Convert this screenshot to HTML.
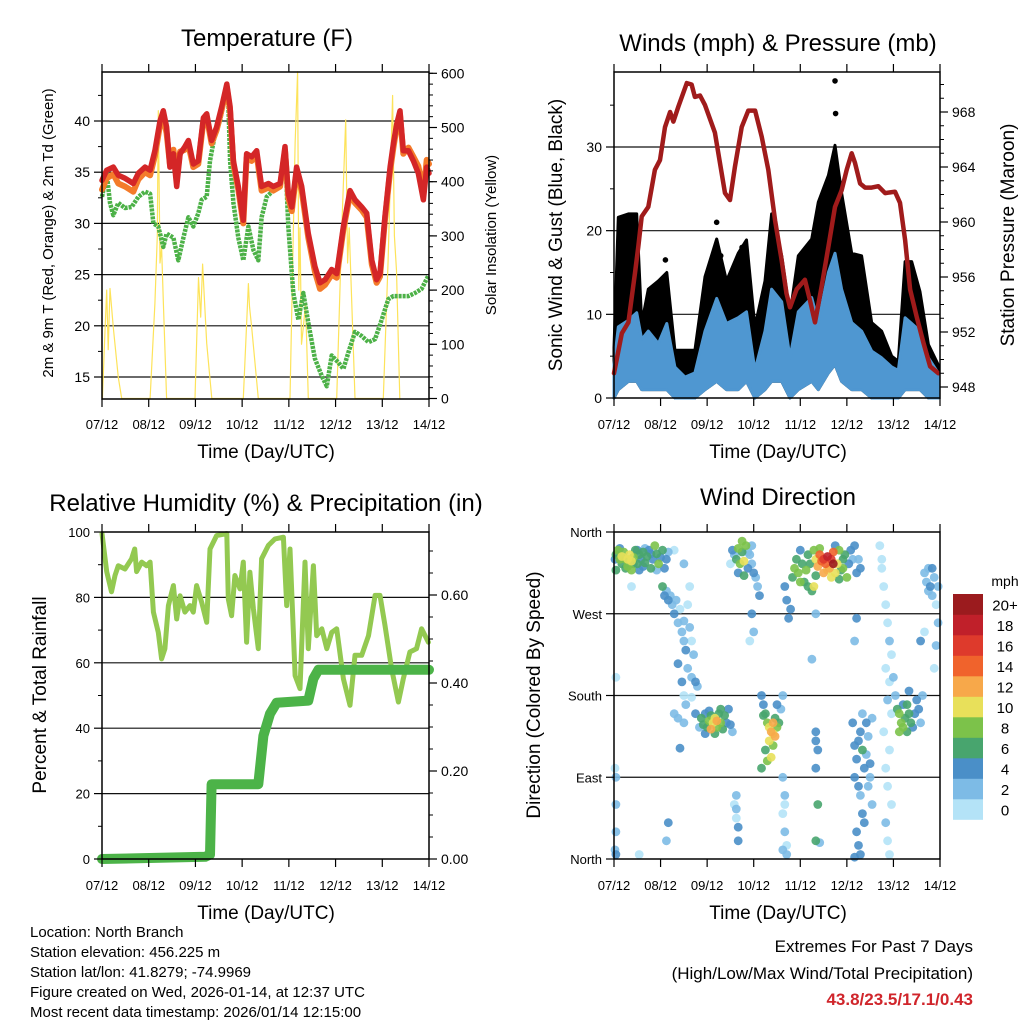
<!DOCTYPE html>
<html><head><meta charset="utf-8"><style>
body{margin:0;background:#fff}
svg{display:block;font-family:"Liberation Sans",Arial,sans-serif}
</style></head><body>
<svg id="chart" width="1024" height="1024" viewBox="0 0 1024 1024" xmlns="http://www.w3.org/2000/svg">
<rect x="0" y="0" width="1024" height="1024" fill="#fff"/>
<g font-size="24" text-anchor="middle" fill="#000">
<text x="267" y="46">Temperature (F)</text>
<text x="778" y="51">Winds (mph) &amp; Pressure (mb)</text>
<text x="266" y="511">Relative Humidity (%) &amp; Precipitation (in)</text>
<text x="778" y="505">Wind Direction</text>
</g>
<g font-size="19" text-anchor="middle">
<text x="266" y="458">Time (Day/UTC)</text>
<text x="778" y="458">Time (Day/UTC)</text>
<text x="266" y="919">Time (Day/UTC)</text>
<text x="778" y="919">Time (Day/UTC)</text>
<text transform="translate(562,235) rotate(-90)">Sonic Wind &amp; Gust (Blue, Black)</text>
<text transform="translate(1014,235) rotate(-90)">Station Pressure (Maroon)</text>
<text transform="translate(46,695) rotate(-90)">Percent &amp; Total Rainfall</text>
<text transform="translate(540,695) rotate(-90)">Direction (Colored By Speed)</text>
</g>
<g font-size="15" text-anchor="middle">
<text transform="translate(53,233) rotate(-90)">2m &amp; 9m T (Red, Orange) &amp; 2m Td (Green)</text>
<text transform="translate(496,235) rotate(-90)">Solar Insolation (Yellow)</text>
</g>
<text x="1005" y="586" font-size="14" text-anchor="middle">mph</text>
<g font-size="15">
<text x="30" y="937">Location: North Branch</text>
<text x="30" y="957">Station elevation: 456.225 m</text>
<text x="30" y="977">Station lat/lon: 41.8279; -74.9969</text>
<text x="30" y="997">Figure created on Wed, 2026-01-14, at 12:37 UTC</text>
<text x="30" y="1017">Most recent data timestamp: 2026/01/14 12:15:00</text>
</g>
<g font-size="17" text-anchor="end">
<text x="973" y="952">Extremes For Past 7 Days</text>
<text x="973" y="979">(High/Low/Max Wind/Total Precipitation)</text>
<text x="973" y="1005" fill="#d0252b" font-weight="bold">43.8/23.5/17.1/0.43</text>
</g>
<g id="plots"></g>
</svg>
<script>
// ---- shared axis data ----
const dayHours=[0,24,48,72,96,120,144,168];
const dayLabels=["07/12","08/12","09/12","10/12","11/12","12/12","13/12","14/12"];
// ---- temperature panel ----
const tempHours=[0,2.4,5.8,8.4,11.8,16.1,18.7,22.1,24.7,27.2,29.8,31.5,33.2,34.9,36.7,38.4,40.1,42.6,44.4,46.9,49.5,52.1,53.8,56.3,58.9,61.5,64.1,65.8,67.5,70.0,72.6,74.3,76.9,79.5,82.0,85.5,88.0,91.5,94.0,95.7,97.5,100.0,102.6,106.0,109.4,112.0,114.6,118.0,120.6,124.0,127.4,130.0,133.4,136.0,138.6,141.1,142.8,145.4,148.0,149.7,151.4,153.1,154.8,157.4,160.0,162.5,165.1,166.8,168];
const tempRed=[34.2,35.2,35.5,34.7,34.4,33.9,34.9,35.5,35.2,37.1,40.0,41.0,39.4,35.5,36.8,33.6,36.8,37.5,38.1,35.8,36.1,40.3,40.7,38.1,39.4,41.4,43.6,41.4,36.1,33.6,30.3,36.8,36.5,37.1,33.6,33.9,33.6,33.9,37.5,32.9,31.6,35.5,33.6,29.0,25.8,24.2,24.5,25.5,25.1,29.7,33.2,32.3,31.6,31.0,26.4,24.5,25.1,30.7,35.5,37.8,39.7,41.0,37.1,37.1,36.1,34.9,32.3,35.5,34.9];
const tempOrange=[33.3,34.4,34.8,33.9,33.6,33.1,34.3,35.0,34.7,36.6,39.6,40.4,38.8,35.8,37.2,34.5,37.0,37.2,37.7,35.5,35.8,40.0,40.4,37.8,39.1,41.1,43.3,41.0,35.8,33.3,30.0,36.4,36.1,36.7,33.2,33.5,33.2,33.6,37.1,32.5,31.2,35.1,33.2,28.6,25.3,23.6,24.0,25.0,24.7,29.4,32.8,32.0,31.3,30.6,26.0,24.2,24.8,30.4,35.1,37.4,39.4,40.6,36.8,37.4,36.5,35.6,33.0,36.2,35.8];
const dewHours=[0,2.4,4.1,5.8,8.4,11.8,15.2,18.7,22.1,24.7,26.4,28.9,31.5,33.2,36.7,39.2,41.8,44.4,46.9,49.5,51.2,53.8,55.5,58.0,60.6,63.2,64.9,65.8,67.5,70.0,72.6,75.2,77.8,80.3,82.0,84.6,88.0,91.5,94.0,95.7,98.3,100.9,103.4,106.0,109.4,112.9,115.5,118.0,121.5,124.0,126.6,130.0,133.4,136.9,140.3,143.7,147.1,149.7,154.0,157.4,160.8,164.2,167.7];
const dewValues=[32.6,34.9,32.0,30.8,32.0,31.5,31.6,32.6,33.1,32.9,30.0,29.7,27.7,29.0,28.6,26.4,28.6,30.6,29.7,31.0,32.3,32.6,36.1,38.7,40.0,42.6,42.0,36.1,32.0,28.6,26.4,29.7,27.4,26.4,30.6,32.6,33.2,33.9,37.1,29.7,23.2,20.6,23.2,20.3,16.8,15.1,14.1,17.1,16.4,15.8,17.4,19.4,19.0,18.4,18.7,20.6,22.6,22.9,22.9,22.9,23.2,23.6,24.9];
const solarHours=[0.2,1.5,2.4,3.2,4.1,5.8,8.4,10.1,24.7,27.2,28.4,28.9,29.8,30.6,31.5,33.2,47.8,49.6,50.7,51.7,53.8,56.4,72.6,75.2,75.8,76.9,80.3,96.6,99.2,100.5,101.1,101.7,102.5,103.4,104.6,106,120.6,123.2,125.2,126.2,127,129.2,130,144.5,147,149.3,150.2,151.3,153];
const solarValues=[0,120,200,90,203,131,39,0,0,175,300,531,250,279,180,0,0,223,150,248,102,0,0,212,170,131,0,0,470,603,200,315,100,131,175,0,0,315,514,250,315,83,0,0,254,559,300,236,0];
const tempTicks=[15,20,25,30,35,40];
const tempTickLabels=["15","20","25","30","35","40"];
const tempMinor=[17.5,22.5,27.5,32.5,37.5,42.5];
const solarTicks=[0,100,200,300,400,500,600];
const solarTickLabels=["0","100","200","300","400","500","600"];
// ---- winds panel ----
const windHours=[0,2.2,7.4,11.7,14.3,17.7,22.9,27.2,31.4,36.6,41.7,46.9,52.9,58,64,68.3,72.6,77.8,81.2,86.4,90.7,95,101.9,105.3,110.5,113.9,117.3,122.5,127.6,132.8,137.9,143.1,146.5,150,153.4,157.7,162,167];
const windHigh=[4,8.5,9.3,10.2,7,8,6.5,8.9,3.7,2.5,3,8,11.9,8.9,9.6,10.3,3.3,8,13,11.5,4.8,10.3,12,9,15,17.3,13,9,8,5.6,4.8,3.7,3.3,9.6,8.9,8,4.8,3];
const windLow=[0,1,2,2,1,1,1,1,0,0,0,1,2,1,1,2,0,1,2,2,0,1,2,1,3,4,2,1,1,0,0,0,0,1,1,1,0,0];
const gustHigh=[6,21.6,22,22,8.9,13,14,15,5.7,5.7,5.7,14.5,19,14,17.3,18.9,8.5,14,22,17,10,17,19,23.4,26.6,30.2,24.5,17.3,17,9,8,5,4.4,16.3,16.3,12.7,6.4,4];
const gustDotHours=[113.9,114.2,52.9,26.5,55,66];
const gustDotValues=[37.9,34.0,21.0,16.5,17,18];
const pressHours=[0,4,7.4,10.8,12.5,14.3,17.7,21.1,23.7,26.3,28.9,30.6,33.2,37.5,40,41.7,44.3,46.9,52,57.2,59.8,62.3,65.8,69.2,72.7,76.1,79.5,83,86.4,88.9,90.7,94.1,98.4,101,103.6,107,110.5,113.9,117.3,119.9,122.5,124.2,126.8,129.4,132.8,136.2,139.7,144.8,147.4,150,152.6,156,159.5,162.9,167.2];
const pressValues=[949.0,951.9,952.7,956.3,958.2,960.4,961.1,963.8,964.5,966.9,968.0,967.3,968.4,970.1,970.0,969.1,969.2,968.5,966.5,962.1,961.6,964.0,966.9,968.1,968.1,966.2,963.8,960.1,957.2,954.8,953.8,955.1,955.8,954.3,952.7,955.3,958.2,961.1,962.3,963.8,965.0,964.3,962.8,962.5,962.5,962.6,962.1,962.2,961.4,958.7,955.1,953.1,951.2,949.5,949.0];
const windTicks=[0,10,20,30];
const windTickLabels=["0","10","20","30"];
const pressTicks=[948,952,956,960,964,968];
const pressTickLabels=["948","952","956","960","964","968"];
// ---- humidity panel ----
const rhHours=[0,2.4,4.9,6.7,8.4,11.8,15.2,16.8,17.8,20.4,22.9,24.7,26.4,28.9,30.6,32.3,34.1,36.7,38.4,40.1,42.6,45.2,46.9,48.6,51.2,53.8,55.5,58.9,64.1,64.9,66.6,68.3,70.9,72.6,74.3,76.0,77.8,80.3,82.0,85.5,88.9,93.2,94.9,96.6,99.2,101.7,104.3,106.0,108.6,110.3,112.9,115.5,118.0,120.6,124.0,127.4,130.0,133.4,136.9,140.3,142.8,145.4,148.8,152.3,154.8,158.2,161.6,164.2,167.7];
const rhValues=[99.5,87.9,81.7,86.7,89.7,88.7,91.8,94.8,87.9,90.8,89.7,90.8,75.5,69.3,61.2,64.3,77.5,83.6,73.4,80.5,75.5,77.5,75.5,83.6,78.5,72.4,94.8,98.9,99.5,79.5,74.4,86.7,82.6,90.8,66.3,87.7,76.5,64.3,91.8,95.9,97.9,98.4,77.5,94.8,56.1,52.1,90.8,64.3,89.7,68.3,70.4,64.3,69.3,70.4,55.1,47.0,62.3,62.3,68.3,80.6,80.6,71.4,58.2,48.0,55.1,63.3,64.3,70.4,66.3];
const precipHours=[0,53,55.5,56.3,80.3,82.9,86.3,89.7,106,108.6,111.2,168];
const precipValues=[0,0.005,0.01,0.17,0.17,0.28,0.33,0.355,0.36,0.41,0.43,0.43];
const rhTicks=[0,20,40,60,80,100];
const rhTickLabels=["0","20","40","60","80","100"];
const precipTicks=[0,0.2,0.4,0.6];
const precipTickLabels=["0.00","0.20","0.40","0.60"];
// ---- wind direction panel ----
const dirHours=[1,2,3,4,5,6,7,8,9,10,11,12,13,14,15,16,17,18,19,20,21,22,23,24,25,26,0.5,1,3,6,9,12,15,4,7,10,13,16,19,22,27,28,
25,26,27,28,29,30,31,32,33,34,35,36,37,36,38,39,40,41,38,40,42,35,33,37,36,33,34,40,42,44,36,43,31,31,36,39,
45,46,47,48,49,50,51,52,53,54,55,56,57,58,59,60,61,47,52,55,49,50,53,
61,62,63,64,65,66,67,68,69,66,70,71,72,73,74,75,60,64,69,71,67,
63,63,64,64,63,62,71,72,70,
76,77,78,79,80,81,82,83,84,85,80,82,78,79,81,83,84,86,87,76,77,82,
87,88,87,88,89,87,89,88,
88,89,90,91,92,93,94,95,96,97,98,99,100,101,102,103,104,105,106,107,108,109,110,111,112,113,114,115,116,117,118,119,120,121,122,123,124,125,126,127,108,110,106,112,100,96,104,114,116,118,103,113,
104,104,104,105,105,104,104,106,102,
124,125,126,127,128,129,130,131,132,124,126,127,128,129,125,126,127,124,131,133,132,130,128,133,123,124,125,
137,138,139,140,141,142,143,140,142,141,143,139,142,140,141,143,140,141,142,144,138,
146,147,148,149,150,151,152,153,154,155,156,157,158,159,147,149,151,145,152,
160,161,162,163,164,165,166,167,166,165,164,162,167,160,158,
1,0.5,1,1,0.5,1,1,9,27,28,13];
const dirDegrees=[335,340,330,325,338,330,322,335,328,332,340,325,335,330,338,326,333,340,320,330,345,336,325,332,340,320,330,318,342,320,318,340,322,333,330,325,318,342,336,318,330,338,
300,290,295,285,290,280,270,285,260,275,250,240,230,262,280,255,240,225,210,200,195,195,215,170,150,155,122,178,160,145,180,190,160,340,325,300,
155,148,160,145,152,158,150,155,145,160,150,143,158,150,165,148,140,138,138,165,163,143,152,
340,335,330,342,325,338,328,345,320,350,335,325,315,310,300,290,325,315,338,345,312,
55,45,35,20,70,60,270,250,240,
180,170,160,150,145,140,138,135,145,150,130,125,120,108,112,155,170,165,180,100,158,150,
90,70,50,30,15,10,5,60,
300,285,265,275,310,320,330,315,340,325,305,318,335,325,295,340,330,322,335,328,330,325,333,320,330,338,315,325,340,318,330,335,310,325,340,330,345,315,330,320,315,318,342,310,300,305,312,345,308,320,300,325,
270,140,130,120,60,100,20,18,220,
125,110,130,140,120,100,115,135,105,90,80,70,50,40,30,15,5,2,80,60,90,150,160,155,150,240,265,
345,320,300,280,260,240,225,210,195,175,160,140,120,100,80,60,40,20,5,200,330,
165,160,150,145,155,170,160,150,145,160,175,165,150,180,140,170,140,180,185,
315,305,320,300,290,310,280,260,235,210,320,295,300,250,240,
200,100,60,30,10,5,90,300,20,40,5];
const dirSpeeds=[6,8,8,6,8,8,8,10,10,8,6,6,6,4,6,6,6,4,6,4,8,6,8,4,6,4,4,6,4,6,8,4,4,10,10,6,4,2,4,2,4,2,
6,4,2,4,2,2,4,2,2,0,2,2,4,2,0,2,0,2,2,2,4,4,4,2,2,2,4,0,4,2,0,2,2,0,2,0,
6,6,4,6,8,6,10,10,8,6,8,6,6,4,4,4,2,4,6,6,4,12,12,
4,2,6,8,8,6,10,8,4,8,2,2,4,2,2,4,0,4,2,2,6,
2,0,4,4,2,0,4,2,0,
4,4,6,8,10,12,10,12,8,6,10,8,6,8,10,6,4,2,2,6,6,12,
2,2,0,2,0,2,2,0,
4,4,4,4,6,8,6,8,4,6,6,8,6,6,6,8,10,12,14,14,16,14,18,12,16,14,10,10,8,6,6,6,8,4,4,2,4,4,2,4,12,10,8,10,6,8,6,4,6,8,10,20,
2,4,4,4,6,4,6,2,2,
4,4,4,4,6,4,2,2,4,4,4,2,4,4,4,4,4,4,2,2,2,4,2,2,4,2,4,
0,0,0,0,0,2,0,0,0,2,0,0,0,0,0,0,2,0,0,2,0,
6,8,8,8,6,6,6,6,4,4,4,4,2,2,8,4,6,2,4,
2,2,2,4,2,2,0,2,2,0,4,2,2,0,4,
0,0,2,2,2,4,2,0,2,4,0];
const dirTicks=[0,90,180,270,360];
const dirTickLabels=["North","East","South","West","North"];
const speedBins=[0,2,4,6,8,10,12,14,16,18,20];
const speedLabels=["0","2","4","6","8","10","12","14","16","18","20+"];
const speedColors=["#b4e3f7","#7dbbe6","#4a8fc8","#48a56e","#7cc24a","#e8e05a","#f7a84a","#f0632c","#de3a2c","#c0202a","#9b1b1e"];

const NS="http://www.w3.org/2000/svg";
const root=document.getElementById("plots");
function mk(tag,attrs,parent){const e=document.createElementNS(NS,tag);for(const k in attrs)e.setAttribute(k,attrs[k]);(parent||root).appendChild(e);return e;}
function lin(d0,d1,r0,r1){return v=>r0+(v-d0)*(r1-r0)/(d1-d0);}
const P1={x0:102,x1:429,y0:72,y1:399},P2={x0:614,x1:940,y0:72,y1:398},P3={x0:102,x1:429,y0:532,y1:859},P4={x0:614,x1:940,y0:532,y1:859};
const x1s=lin(0,168,P1.x0,P1.x1), x2s=lin(0,168,P2.x0,P2.x1), x3s=lin(0,168,P3.x0,P3.x1), x4s=lin(0,168,P4.x0,P4.x1);
const tS=lin(40,15,121,377), sS=lin(0,600,398.5,73.3), wS=lin(0,30,398,147), pS=lin(948,968,387,112), rS=lin(0,100,859,532), qS=lin(0,0.6,859,595), dS=lin(0,360,859,532);

function pts(xs,ys,xf,yf){return xs.map((h,i)=>xf(h).toFixed(1)+","+yf(ys[i]).toFixed(1)).join(" ");}
function line(xs,ys,xf,yf,color,w,name,extra){
  const e=mk("polyline",Object.assign({points:pts(xs,ys,xf,yf),fill:"none",stroke:color,"stroke-width":w,"stroke-linejoin":"round","stroke-linecap":"round"},extra||{}));
  
  
  return e;}
function band(xs,hi,lo,xf,yf,color,name){
  const a=xs.map((h,i)=>xf(h).toFixed(1)+","+yf(hi[i]).toFixed(1));
  const b=xs.map((h,i)=>xf(h).toFixed(1)+","+yf(lo[i]).toFixed(1)).reverse();
  const e=mk("polygon",{points:a.concat(b).join(" "),fill:color,stroke:color,"stroke-width":3,"stroke-linejoin":"round"});
  
  }
function grid(P,vals,yf,name){vals.forEach(v=>{const y=yf(v);
  const g=mk("line",{x1:P.x0,x2:P.x1,y1:y,y2:y,stroke:"#111","stroke-width":1.2});
  
  });}
function yAxis(P,side,vals,labels,yf,minor,name,fs){
  const x=side==="left"?P.x0:P.x1, d=side==="left"?-1:1;
  vals.forEach((v,i)=>{const y=yf(v);
    const t=mk("line",{x1:x,x2:x+d*8,y1:y,y2:y,stroke:"#000","stroke-width":1.2});
    
    
    const l=mk("text",{x:x+d*12,y:y+5,"font-size":fs||14,"text-anchor":side==="left"?"end":"start"});
    l.textContent=labels[i];
    
    });
  (minor||[]).forEach(v=>{const y=yf(v);
    const t=mk("line",{x1:x,x2:x+d*4,y1:y,y2:y,stroke:"#000","stroke-width":1});
    
    });}
function xAxis(P,xf,name,ly){
  dayHours.forEach((h,i)=>{const x=xf(h);
    const t=mk("line",{x1:x,x2:x,y1:P.y1,y2:P.y1+8,stroke:"#000","stroke-width":1.2});
    
    
    const t2=mk("line",{x1:x,x2:x,y1:P.y0,y2:P.y0-8,stroke:"#000","stroke-width":1.2});
    
    
    const l=mk("text",{x:x,y:ly,"font-size":13,"text-anchor":"middle"});
    l.textContent=dayLabels[i];
    
    });}
function frame(P,name){const f=mk("rect",{x:P.x0,y:P.y0,width:P.x1-P.x0,height:P.y1-P.y0,fill:"none",stroke:"#000","stroke-width":1.5});
  
  }
function range(a,b,s){const r=[];for(let v=a;v<=b+1e-9;v+=s)r.push(+v.toFixed(3));return r;}

// Panel 1
grid(P1,tempTicks,tS,"temperature-grid-line");
line(solarHours,solarValues,x1s,sS,"#fde35a",1.2,"solar-insolation-line");
line(dewHours,dewValues,x1s,tS,"#4cb147",4.5,"dewpoint-line",{"stroke-dasharray":"3,1","stroke-linecap":"butt"});
line(tempHours,tempOrange,x1s,tS,"#f47b2a",6,"temperature-9m-line");
line(tempHours,tempRed,x1s,tS,"#d42627",5.5,"temperature-2m-line");
frame(P1,"temperature-plot-frame");
yAxis(P1,"left",tempTicks,tempTickLabels,tS,tempMinor,"temperature-y-axis");
yAxis(P1,"right",solarTicks,solarTickLabels,sS,range(20,600,20),"solar-y-axis");
xAxis(P1,x1s,"temperature-x-axis",429);

// Panel 2
grid(P2,windTicks.slice(1),wS,"wind-grid-line");
band(windHours,gustHigh,windLow,x2s,wS,"#000","gust-points-band");
gustDotHours.forEach((h,i)=>{const c=mk("circle",{cx:x2s(h),cy:wS(gustDotValues[i]),r:2.8,fill:"#000"});
  
  });
band(windHours,windHigh,windLow,x2s,wS,"#4f97d1","wind-speed-band");
line(pressHours,pressValues,x2s,pS,"#a01b1b",4.5,"pressure-line");
frame(P2,"winds-plot-frame");
yAxis(P2,"left",windTicks,windTickLabels,wS,[5,15,25,35],"wind-y-axis");
yAxis(P2,"right",pressTicks,pressTickLabels,pS,range(948,970,1),"pressure-y-axis");
xAxis(P2,x2s,"winds-x-axis",429);

// Panel 3
grid(P3,[20,40,60,80],rS,"humidity-grid-line");
line(rhHours,rhValues,x3s,rS,"#93c951",5,"humidity-line");
line(precipHours,precipValues,x3s,qS,"#4cb348",10,"precipitation-line");
frame(P3,"humidity-plot-frame");
yAxis(P3,"left",rhTicks,rhTickLabels,rS,[10,30,50,70,90],"humidity-y-axis",13);
yAxis(P3,"right",precipTicks,precipTickLabels,qS,range(0.05,0.7,0.05),"precipitation-y-axis");
xAxis(P3,x3s,"humidity-x-axis",890);

// Panel 4
grid(P4,[90,180,270],dS,"direction-grid-line");
const order=dirHours.map((h,i)=>i).sort((a,b)=>dirSpeeds[a]-dirSpeeds[b]);
order.forEach(i=>{const bin=Math.min(10,Math.floor(dirSpeeds[i]/2));
  const c=mk("circle",{cx:x4s(dirHours[i]).toFixed(1),cy:dS(dirDegrees[i]).toFixed(1),r:4.4,fill:speedColors[bin],"fill-opacity":0.9});
  
  });
frame(P4,"direction-plot-frame");
yAxis(P4,"left",dirTicks,dirTickLabels,dS,[],"direction-y-axis",13);
xAxis(P4,x4s,"direction-x-axis",890);

// Colorbar
const cbTop=594, cbH=20.5;
speedBins.forEach((b,i)=>{const y=cbTop+(10-i)*cbH;
  const r=mk("rect",{x:953,y:y,width:30,height:cbH+0.3,fill:speedColors[i]});
  
  
  const t=mk("text",{x:1005,y:y+cbH/2+6,"font-size":15,"text-anchor":"middle"});
  t.textContent=speedLabels[i];
  
  });
</script>
</body></html>
